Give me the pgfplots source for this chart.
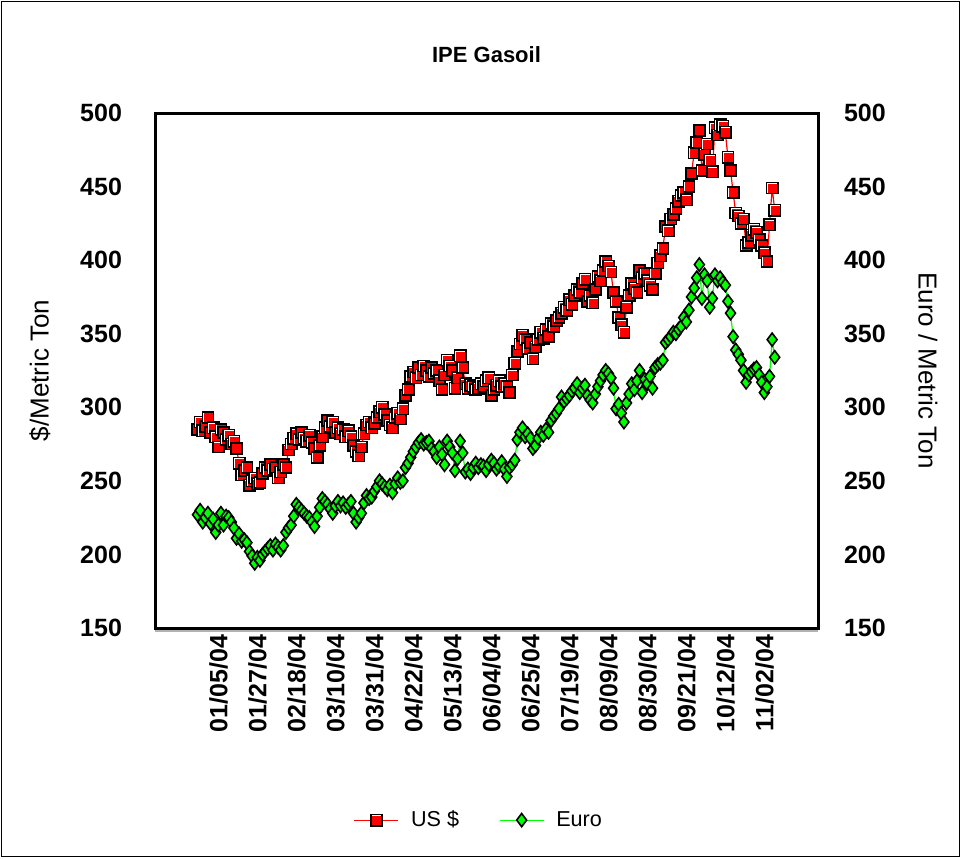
\documentclass[border=0pt]{standalone}
\usepackage{pgfplots}
\pgfplotsset{compat=1.18}
\usepackage{pgfplotstable}
\usepackage{fontspec}
\setmainfont{Liberation Sans}
\definecolor{xred}{RGB}{255,0,0}
\definecolor{xgreen}{RGB}{0,255,0}
\pgfdeclareplotmark{xlsq}{%
  \pgfsetfillcolor{black}%
  \pgfpathrectangle{\pgfqpoint{-3.2pt}{-3.2pt}}{\pgfqpoint{6.4pt}{6.4pt}}%
  \pgfusepath{fill}%
  \pgfsetfillcolor{white}%
  \pgfpathrectangle{\pgfqpoint{-2.4pt}{-2.4pt}}{\pgfqpoint{4.8pt}{4.8pt}}%
  \pgfusepath{fill}%
  \pgfsetfillcolor{xred}%
  \pgfpathrectangle{\pgfqpoint{-2.1pt}{-2.4pt}}{\pgfqpoint{4.5pt}{4.5pt}}%
  \pgfusepath{fill}%
}
\pgfplotstableread{
i usd eur
0 285 227
1 290 230
2 284 222
3 287 225
4 293 228
5 283 221
6 286 224
7 280 215
8 273 220
9 285 228
10 283 220
11 278 226
12 281 225
13 275 222
14 277 218
15 272 211
16 262 214
17 254 209
18 257 210
19 259 208
20 247 202
21 250 199
22 252 194
23 248 198
24 249 196
25 255 200
26 259 202
27 257 204
28 261 206
29 258 203
30 259 207
31 252 205
32 256 203
33 261 206
34 259 215
35 271 218
36 275 220
37 279 226
38 282 234
39 278 232
40 283 230
41 279 228
42 277 226
43 281 225
44 276 222
45 272 219
46 266 226
47 274 232
48 280 238
49 286 236
50 291 234
51 287 231
52 290 228
53 283 233
54 286 236
55 282 233
56 285 235
57 280 232
58 284 234
59 280 236
60 274 228
61 270 222
62 267 225
63 273 228
64 282 235
65 288 240
66 290 238
67 286 239
68 289 243
69 293 246
70 297 250
71 300 248
72 295 246
73 291 244
74 288 247
75 286 242
76 293 248
77 296 252
78 292 249
79 299 250
80 308 259
81 312 262
82 321 266
83 324 270
84 320 273
85 327 276
86 322 278
87 328 275
88 325 276
89 321 277
90 327 272
91 323 270
92 325 266
93 318 273
94 312 268
95 322 261
96 332 277
97 328 273
98 325 269
99 313 257
100 320 265
101 335 277
102 327 269
103 316 256
104 313 258
105 315 255
106 314 259
107 312 262
108 313 259
109 316 261
110 314 260
111 318 257
112 320 261
113 308 264
114 312 262
115 315 258
116 318 260
117 314 263
118 316 258
119 314 253
120 310 259
121 322 261
122 330 264
123 338 278
124 343 283
125 349 286
126 346 280
127 340 282
128 344 279
129 333 272
130 341 274
131 346 279
132 351 283
133 347 281
134 353 285
135 348 283
136 357 291
137 355 294
138 359 296
139 361 299
140 364 307
141 368 304
142 366 306
143 373 308
144 370 311
145 376 313
146 380 316
147 378 310
148 384 313
149 387 315
150 372 308
151 376 305
152 371 303
153 380 309
154 389 314
155 386 318
156 393 322
157 399 325
158 396 323
159 392 320
160 378 313
161 372 299
162 361 302
163 356 296
164 351 290
165 368 303
166 376 309
167 384 316
168 381 312
169 378 318
170 393 325
171 388 310
172 391 319
173 386 316
174 383 321
175 380 313
176 391 327
177 398 329
178 403 330
179 408 332
180 423 344
181 420 346
182 428 348
183 431 351
184 435 350
185 440 353
186 444 355
187 446 361
188 441 358
189 450 366
190 459 375
191 473 381
192 480 388
193 488 397
194 461 374
195 472 390
196 479 386
197 468 368
198 460 374
199 490 390
200 485 386
201 492 388
202 491 385
203 487 383
204 470 372
205 461 364
206 446 348
207 432 339
208 430 336
209 425 332
210 428 325
211 410 317
212 412 322
213 417 324
214 421 326
215 419 327
216 414 322
217 410 317
218 405 310
219 399 314
220 424 321
221 449 346
222 434 334
}\gasoil
\begin{document}
\begin{tikzpicture}
\path[use as bounding box] (0,0) rectangle (480.5pt,429pt);
\draw[black, line width=0.6pt] (0.6pt,0.6pt) rectangle (479.9pt,428.4pt);
\begin{axis}[
  at={(77.5pt,115pt)}, anchor=south west,
  scale only axis, width=331.5pt, height=257.5pt,
  xmin=-16.35, xmax=238.65, ymin=150, ymax=500,
  axis line style={line width=1.5pt, black},
  xtick={0,15,...,210},
  xticklabels={01/05/04,01/27/04,02/18/04,03/10/04,03/31/04,04/22/04,05/13/04,06/04/04,06/25/04,07/19/04,08/09/04,08/30/04,09/21/04,10/12/04,11/02/04},
  ytick={150,200,...,500},
  major tick length=0pt,
  yticklabel pos=left,
  /pgf/number format/assume math mode=true,
  tick label style={font=\fontsize{12.5}{14}\selectfont\bfseries},
  yticklabel style={xshift=-13pt},
  xticklabel style={rotate=90, anchor=east, yshift=-10.5pt},
  title={IPE Gasoil},
  title style={font=\fontsize{11}{13}\selectfont\bfseries, at={(rel axis cs:0.5,1)}, anchor=center, yshift=23pt},
  legend style={draw=none, at={(0.49,-0.373)}, anchor=center, font=\fontsize{10.8}{13}\selectfont, legend columns=2, /tikz/every odd column/.append style={column sep=4pt}, /tikz/every even column/.append style={column sep=18pt}},
  legend image code/.code={\draw[#1] (0pt,0pt) -- (22pt,0pt); \draw plot[#1, mark repeat=1] coordinates {(11pt,0pt)};},
  clip=false,
]
\addplot[color=xred, line width=0.6pt, mark=xlsq, mark options={solid}] table[x=i, y=usd] {\gasoil};
\addlegendentry{US \$}
\addplot[color=xgreen, line width=0.6pt, mark=diamond*, mark size=3.3pt, mark options={fill=xgreen, draw=black, line width=0.8pt, solid}] table[x=i, y=eur] {\gasoil};
\addlegendentry{Euro}
\draw[gray!60, line width=1pt] ([yshift=-1.3pt]rel axis cs:0,0) -- ([yshift=-1.3pt]rel axis cs:1,0);
\end{axis}
\begin{axis}[
  at={(77.5pt,115pt)}, anchor=south west,
  scale only axis, width=331.5pt, height=257.5pt,
  xmin=-16.35, xmax=238.65, ymin=150, ymax=500,
  hide x axis,
  axis y line*=right,
  axis line style={draw=none},
  ytick={150,200,...,500},
  major tick length=0pt,
  /pgf/number format/assume math mode=true,
  tick label style={font=\fontsize{12.5}{14}\selectfont\bfseries},
  yticklabel style={xshift=9.5pt},
]
\addplot[draw=none] coordinates {(0,150)};
\end{axis}
\node[rotate=90, font=\fontsize{13}{15}\selectfont] at (20pt,243.75pt) {\$/Metric Ton};
\node[rotate=-90, font=\fontsize{13}{15}\selectfont] at (464pt,243.75pt) {Euro / Metric Ton};
\end{tikzpicture}
\end{document}
